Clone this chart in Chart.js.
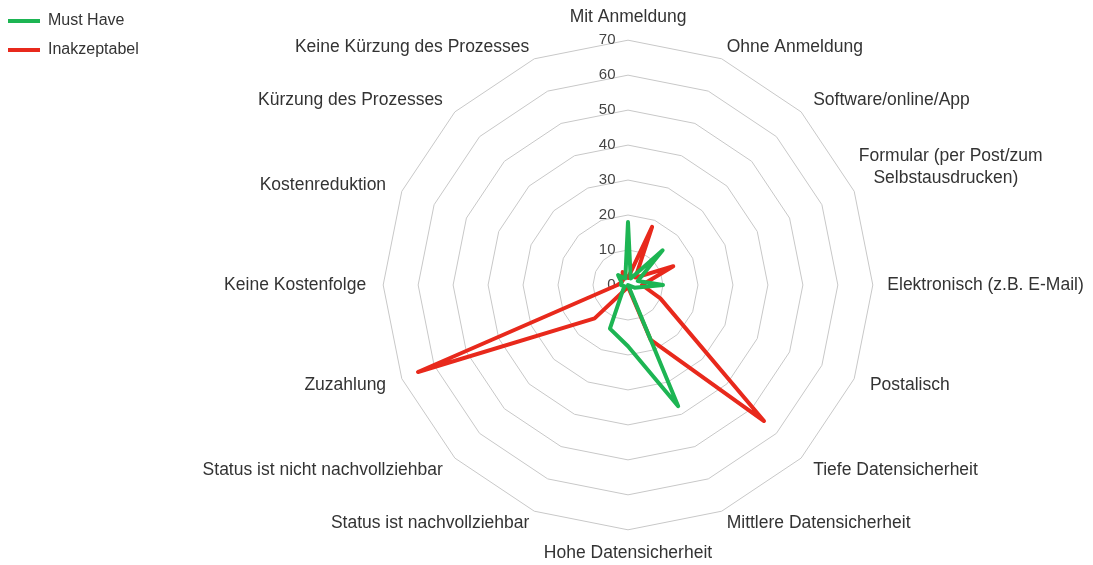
<!DOCTYPE html>
<html>
<head>
<meta charset="utf-8">
<script src="https://cdn.jsdelivr.net/npm/chart.js@4/dist/chart.umd.min.js"></script>
<style>
  html, body { margin: 0; padding: 0; background: #fff; }
  #wrap { width: 1093px; height: 565px; }
</style>
</head>
<body>
<div id="wrap"><canvas id="radar-chart"></canvas></div>
<script>
const kategorien = [
    "Mit Anmeldung",
    "Ohne Anmeldung",
    "Software/online/App",
    ["Formular (per Post/zum", "   Selbstausdrucken)"],
    "Elektronisch (z.B. E-Mail)",
    "Postalisch",
    "Tiefe Datensicherheit",
    "Mittlere Datensicherheit",
    "Hohe Datensicherheit",
    "Status ist nachvollziehbar",
    "Status ist nicht nachvollziehbar",
    "Zuzahlung",
    "Keine Kostenfolge",
    "Kostenreduktion",
    "Kürzung des Prozesses",
    "Keine Kürzung des Prozesses"
]
const mustHave = [18, 2, 14, 3, 10, 2, 0, 37.5, 17.5, 13.5, 2, 1, 2, 2, 4, 2]
const inakzeptabel = [2, 18, 3, 14, 4, 10, 55, 17, 0.5, 1, 13.5, 65, 3, 2, 2, 4]
const ticksWerte = [0, 10, 20, 30, 40, 50, 60, 70]

// legend on the left: fixed width so the radar sits right of center,
// and drawn up in the top corner like the original
const legendPlatz = {
    id: 'legendPlatz',
    beforeInit(chart) {
        const lg = chart.legend
        const fitOrig = lg.fit
        lg.fit = function () {
            fitOrig.call(lg)
            this.width = 179
        }
        const drawOrig = lg.draw
        lg.draw = function () {
            const ctx = chart.ctx
            ctx.save()
            ctx.translate(-5, -17)
            drawOrig.call(lg)
            ctx.restore()
        }
    }
}

// single line labels: tiny line height -> text sits centred on its spot
const labelFont = ctx => ({
    family: "Liberation Sans",
    size: 17.5,
    lineHeight: ctx.index === 3 ? 1.25 : 0.01
})
const labelAbstand = ctx => {
    const i = ctx.index
    if (i === 3) return -2.5
    if (i === 4) return 7
    if (i === 0 || i === 8) return 15.5
    if (i === 1 || i === 7 || i === 9 || i === 15) return 5.5
    return 9.5
}

//Radar chart
new Chart(document.getElementById("radar-chart"), {
    type: 'radar',
    plugins: [legendPlatz],
    data: {
        labels: kategorien,
        datasets: [
            {
                data: mustHave,
                label: "Must Have",
                borderColor: "#1db553",
                backgroundColor: "#1db553",
                borderWidth: 4,
                borderCapStyle: 'round',
                borderJoinStyle: 'round',
                pointRadius: 0,
                fill: false
            },
            {
                data: inakzeptabel,
                label: "Inakzeptabel",
                borderColor: "#e8291c",
                backgroundColor: "#e8291c",
                borderWidth: 4,
                borderCapStyle: 'round',
                borderJoinStyle: 'round',
                pointRadius: 0,
                fill: false
            }
        ]
    },
    options: {
        responsive: true,
        maintainAspectRatio: false,
        animation: false,
        layout: { padding: { top: 17, bottom: 11, left: 0, right: 0 } },
        plugins: {
            legend: {
                position: 'left',
                align: 'start',
                labels: {
                    usePointStyle: true,
                    pointStyle: 'line',
                    pointStyleWidth: 32,
                    boxWidth: 32,
                    padding: 13,
                    font: { family: "Liberation Sans", size: 16 },
                    color: "#333"
                }
            },
            tooltip: { enabled: false }
        },
        scales: {
            r: {
                min: -0.01,
                max: 70,
                afterBuildTicks: axis => {
                    axis.ticks = ticksWerte.map(v => ({ value: v }))
                },
                ticks: {
                    font: { family: "Liberation Sans", size: 15 },
                    color: "#444",
                    showLabelBackdrop: false,
                    backdropPadding: 0,
                    callback: v => (v < 10 ? "\u2007" : "") + v + "          "
                },
                grid: { color: "#c8c8c8", lineWidth: 1 },
                angleLines: { display: false },
                pointLabels: {
                    font: labelFont,
                    color: "#333",
                    padding: labelAbstand
                }
            }
        }
    }
});
</script>
</body>
</html>
